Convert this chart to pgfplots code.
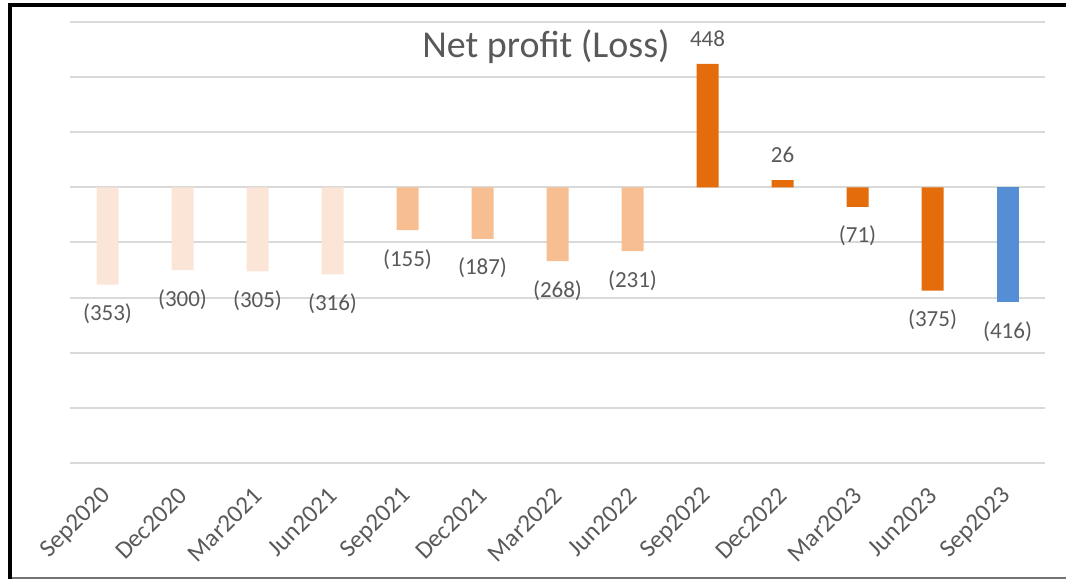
\documentclass[border=0pt]{standalone}
\usepackage{pgfplots}
\pgfplotsset{compat=1.18}
\usepackage{fontspec}
\setmainfont{Carlito}
\definecolor{gridgray}{HTML}{D9D9D9}
\definecolor{txtgray}{HTML}{595959}
\definecolor{peach}{HTML}{FBE5D6}
\definecolor{lightorange}{HTML}{F7BE92}
\definecolor{darkorange}{HTML}{E46C0A}
\definecolor{barblue}{HTML}{558ED5}
\begin{document}
\begin{tikzpicture}
\useasboundingbox (0,0) rectangle (1066pt,580pt);
% outer frame
\draw[line width=2pt, black!55] (10pt,2pt) -- (1070pt,2pt);
\draw[line width=3.5pt] (10pt,1pt) -- (10pt,575pt) -- (1070pt,575pt);
\begin{axis}[
  at={(70pt,117pt)}, anchor=south west,
  scale only axis, width=975pt, height=441pt,
  xmin=-0.5, xmax=12.5, ymin=-1000, ymax=600,
  axis line style={draw=none}, tick style={draw=none},
  ytick={-1000,-800,...,600}, yticklabels={},
  ymajorgrids, grid style={gridgray, line width=2pt},
  xtick={0,...,12},
  xticklabels={Sep2020,Dec2020,Mar2021,Jun2021,Sep2021,Dec2021,Mar2022,Jun2022,Sep2022,Dec2022,Mar2023,Jun2023,Sep2023},
  xticklabel style={yshift=-29pt, rotate=45, anchor=east, inner sep=0pt,
    font=\fontsize{25}{27}\selectfont, text=txtgray},
  point meta=explicit symbolic,
  nodes near coords,
  every node near coord/.append style={font=\fontsize{23}{25}\selectfont, text=txtgray, inner sep=0pt},
  clip=false,
]
  \addplot[ybar, bar width=22pt, fill=peach, draw=none,
    every node near coord/.append style={anchor=north, yshift=-19pt}]
    coordinates {(0,-353) [(353)] (1,-300) [(300)] (2,-305) [(305)] (3,-316) [(316)]};
  \addplot[ybar, bar width=22pt, fill=lightorange, draw=none,
    every node near coord/.append style={anchor=north, yshift=-19pt}]
    coordinates {(4,-155) [(155)] (5,-187) [(187)] (6,-268) [(268)] (7,-231) [(231)]};
  \addplot[ybar, bar width=22pt, fill=darkorange, draw=none,
    every node near coord/.append style={anchor=south, yshift=17pt}]
    coordinates {(8,448) [448] (9,26) [26]};
  \addplot[ybar, bar width=22pt, fill=darkorange, draw=none,
    every node near coord/.append style={anchor=north, yshift=-19pt}]
    coordinates {(10,-71) [(71)] (11,-375) [(375)]};
  \addplot[ybar, bar width=22pt, fill=barblue, draw=none,
    every node near coord/.append style={anchor=north, yshift=-19pt}]
    coordinates {(12,-416) [(416)]};
\end{axis}
\node[anchor=base, text=txtgray, font=\fontsize{38}{42}\selectfont] at (546pt,522pt) {Net profit (Loss)};
\end{tikzpicture}
\end{document}
